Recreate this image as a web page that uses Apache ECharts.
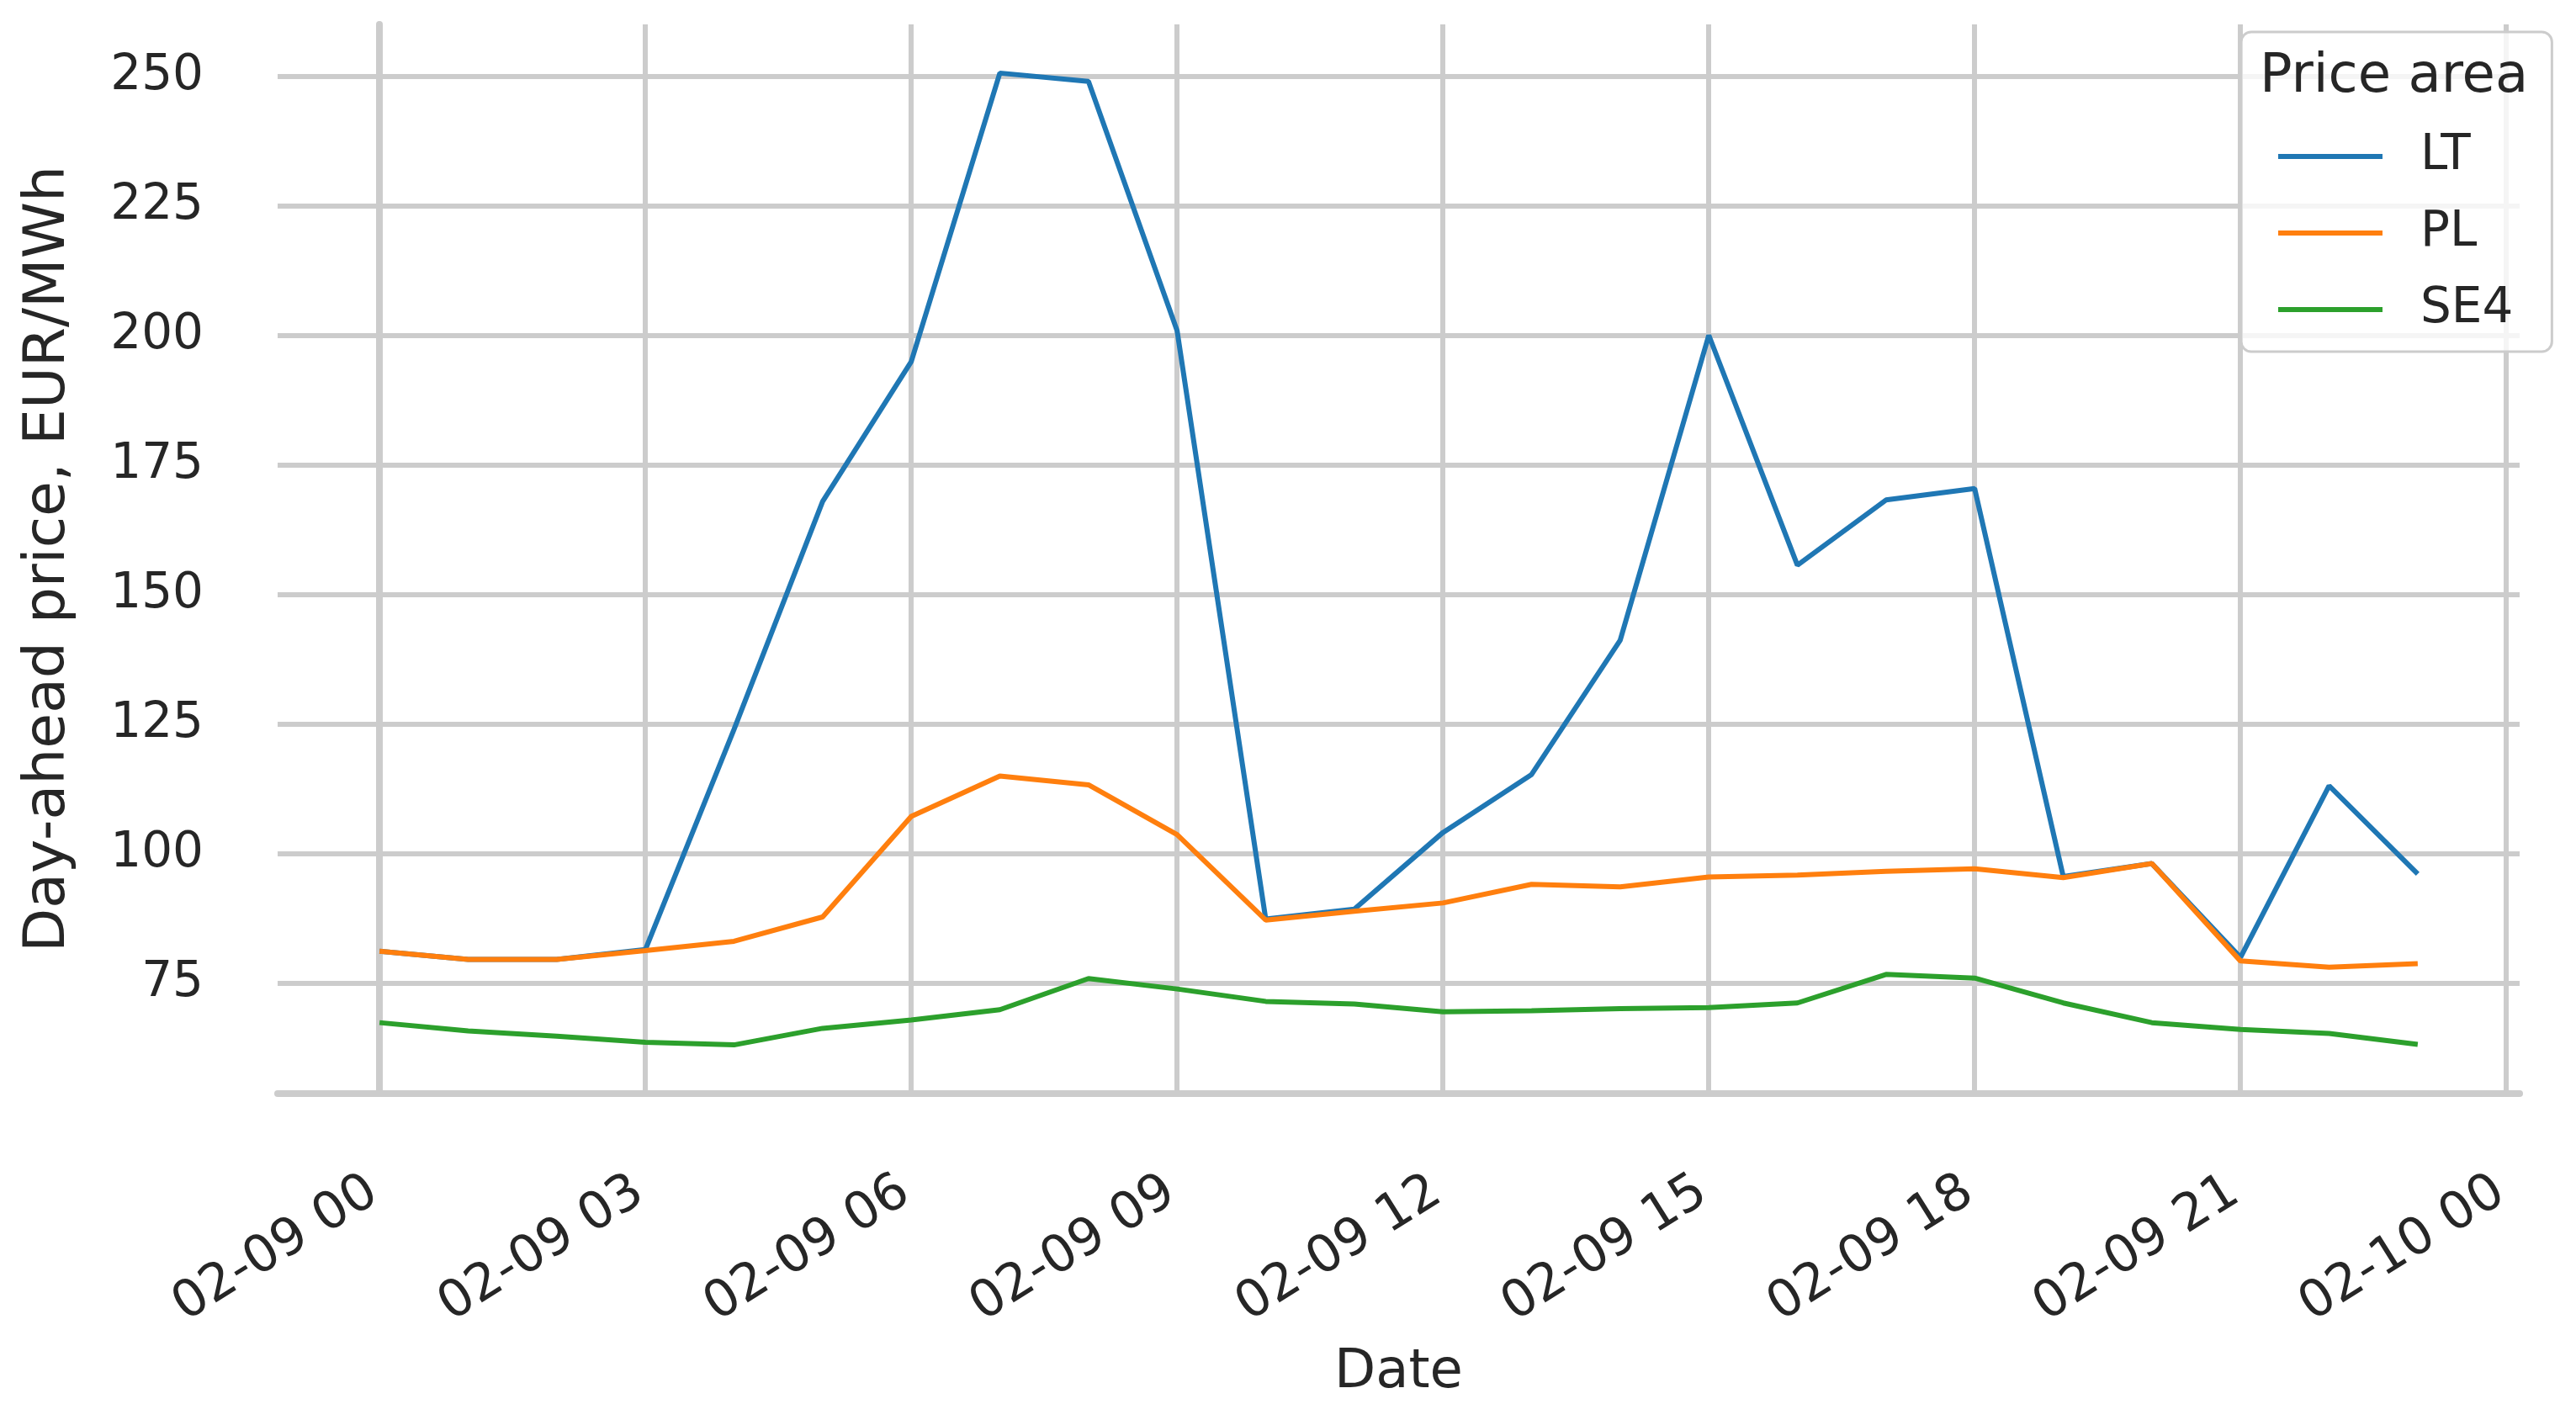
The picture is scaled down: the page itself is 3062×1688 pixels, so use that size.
<!DOCTYPE html>
<html>
<head>
<meta charset="utf-8">
<title>Day-ahead price</title>
<script src="https://cdn.jsdelivr.net/npm/echarts@6/dist/echarts.min.js"></script>
<style>
    html, body { margin: 0; padding: 0; background: #fff; }
    #chart { width: 3062px; height: 1688px; }
</style>
</head>
<body>
<div id="chart"></div>
<script>
// hours of 2 Feb 09, values in EUR/MWh
var hours = [0, 1, 2, 3, 4, 5, 6, 7, 8, 9, 10, 11, 12, 13, 14, 15, 16, 17, 18, 19, 20, 21, 22, 23];
var lt  = [81.2, 79.6, 79.6, 81.5, 124.0, 168.0, 195.0, 250.7, 249.1, 201.0, 87.4, 89.3, 104.1, 115.3, 141.2, 200.1, 155.7, 168.3, 170.5, 95.6, 98.1, 80.0, 113.1, 96.1];
var pl  = [81.2, 79.6, 79.6, 81.3, 83.1, 87.8, 107.2, 115.0, 113.3, 103.7, 87.2, 88.9, 90.5, 94.1, 93.6, 95.5, 95.9, 96.6, 97.1, 95.4, 98.1, 79.3, 78.1, 78.8];
var se4 = [67.4, 65.8, 64.8, 63.6, 63.1, 66.3, 67.9, 69.9, 75.9, 73.9, 71.5, 71.0, 69.5, 69.7, 70.1, 70.3, 71.2, 76.7, 76.0, 71.2, 67.4, 66.1, 65.3, 63.2];

var seriesNames = ['LT', 'PL', 'SE4'];
var xTicks = [0, 3, 6, 9, 12, 15, 18, 21, 24];
var xTickLabels = ['02-09 00', '02-09 03', '02-09 06', '02-09 09', '02-09 12', '02-09 15', '02-09 18', '02-09 21', '02-10 00'];
var yTicks = [75, 100, 125, 150, 175, 200, 225, 250];

(function() {
    var ink = '#262626';
    var gridColor = '#cccccc';
    var colors = ['#1f77b4', '#ff7f0e', '#2ca02c'];
    var font = 'DejaVu Sans';

    var chart = echarts.init(document.getElementById('chart'), null, { renderer: 'canvas' });

    function pairs(vals) {
        return hours.map(function(h, i) { return [h, vals[i]]; });
    }

    var series = [lt, pl, se4].map(function(vals, i) {
        return {
            name: seriesNames[i],
            type: 'line',
            data: pairs(vals),
            symbol: 'none',
            showSymbol: false,
            lineStyle: { color: colors[i], width: 6 },
            itemStyle: { color: colors[i] },
            animation: false
        };
    });

    chart.setOption({
        backgroundColor: '#ffffff',
        textStyle: { fontFamily: font, color: ink },
        title: {
            text: 'Price area',
            left: 2686,
            top: 60,
            padding: 0,
            textStyle: { fontFamily: font, fontSize: 64, fontWeight: 'normal', color: ink }
        },
        legend: {
            data: seriesNames,
            orient: 'vertical',
            left: 2664,
            top: 38,
            padding: [118, 46, 20, 44],
            itemWidth: 124,
            itemHeight: 6,
            itemGap: 31,
            icon: 'rect',
            backgroundColor: 'rgba(255,255,255,0.8)',
            borderColor: gridColor,
            borderWidth: 3,
            borderRadius: 12,
            textStyle: { fontFamily: font, fontSize: 58, color: ink, lineHeight: 60, padding: [0, 0, 0, 40] }
        },
        grid: { left: 330, right: 67, top: 29, bottom: 388 },
        xAxis: {
            type: 'value',
            min: -1.15,
            max: 24.15,
            name: 'Date',
            nameLocation: 'middle',
            nameGap: 300,
            nameTextStyle: { fontFamily: font, fontSize: 64, color: ink },
            axisLine: { show: true, lineStyle: { color: gridColor, width: 8 } },
            axisTick: { show: false, customValues: xTicks },
            axisLabel: {
                customValues: xTicks,
                rotate: 32,
                margin: 108,
                padding: [0, 8, 0, 0],
                fontFamily: font,
                fontSize: 61,
                color: ink,
                formatter: function(v) { return xTickLabels[xTicks.indexOf(v)]; }
            },
            splitLine: { show: true, lineStyle: { color: gridColor, width: 6 } }
        },
        yAxis: {
            type: 'value',
            min: 53.7,
            max: 260.1,
            name: 'Day-ahead price, EUR/MWh',
            nameLocation: 'middle',
            nameGap: 238,
            nameTextStyle: { fontFamily: font, fontSize: 68, color: ink },
            axisLine: { show: true, lineStyle: { color: gridColor, width: 8 } },
            axisTick: { show: false, customValues: yTicks },
            axisLabel: {
                customValues: yTicks,
                margin: 88,
                fontFamily: font,
                fontSize: 58,
                color: ink
            },
            splitLine: { show: true, lineStyle: { color: gridColor, width: 6 } }
        },
        series: series
    });

    window.addEventListener('resize', function() { chart.resize(); });
})();
</script>
</body>
</html>
